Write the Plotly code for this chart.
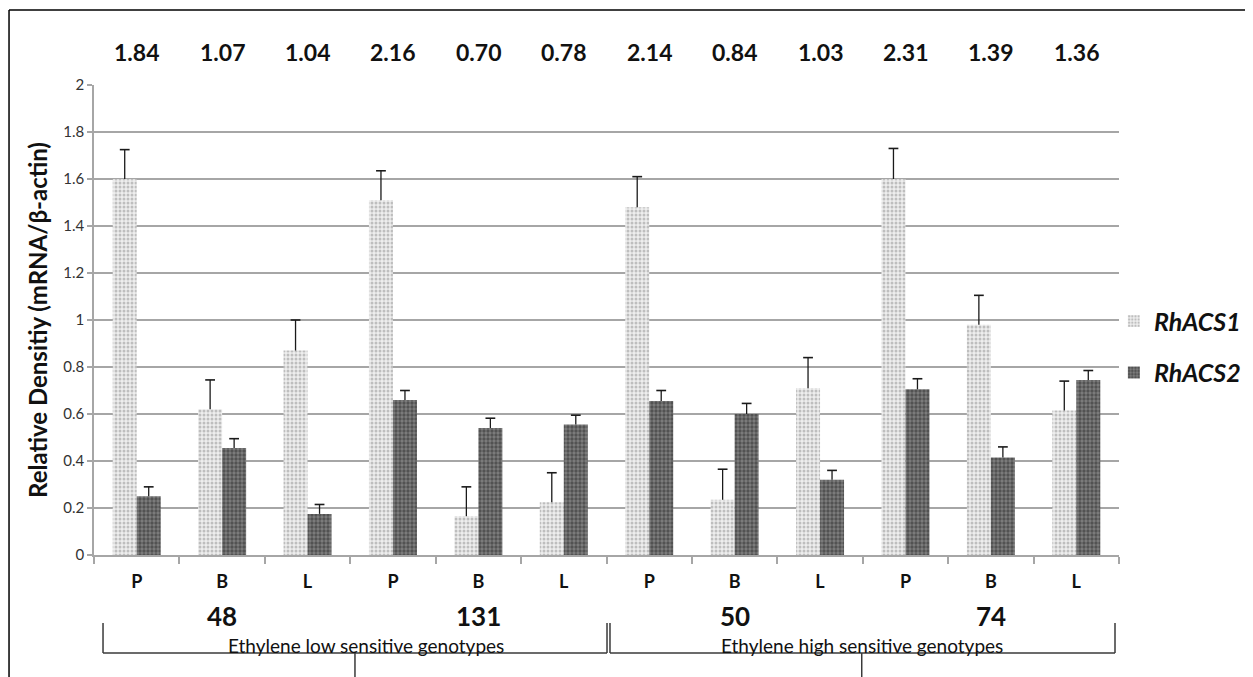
import plotly.graph_objects as go

# ---------------- data ----------------
genotypes = ["48", "131", "50", "74"]
tissues = ["P", "B", "L"]
ratio_labels = ["1.84", "1.07", "1.04", "2.16", "0.70", "0.78",
                "2.14", "0.84", "1.03", "2.31", "1.39", "1.36"]
acs1 = [1.60, 0.62, 0.87, 1.51, 0.165, 0.225, 1.48, 0.235, 0.71, 1.60, 0.98, 0.615]
acs1_err = [0.125, 0.125, 0.13, 0.125, 0.125, 0.125, 0.13, 0.13, 0.13, 0.13, 0.125, 0.125]
acs2 = [0.25, 0.455, 0.175, 0.66, 0.54, 0.555, 0.655, 0.60, 0.32, 0.705, 0.415, 0.745]
acs2_err = [0.04, 0.04, 0.04, 0.04, 0.042, 0.04, 0.045, 0.045, 0.04, 0.045, 0.045, 0.04]
y_ticks = [0, 0.2, 0.4, 0.6, 0.8, 1.0, 1.2, 1.4, 1.6, 1.8, 2.0]
y_tick_labels = ["0", "0.2", "0.4", "0.6", "0.8", "1", "1.2", "1.4", "1.6", "1.8", "2"]
group_titles = ["Ethylene low sensitive genotypes", "Ethylene high sensitive genotypes"]
series_names = ["RhACS1", "RhACS2"]

categories = [f"{g}-{t}" for g in genotypes for t in tissues]
tick_text = [t for g in genotypes for t in tissues]

FONT = "Lato"
GAP = 0.438

fig = go.Figure()
styles = [
    dict(color="#eeeeee", pattern=dict(shape=".", fgcolor="#8e8e8e", bgcolor="#eeeeee", size=4, solidity=0.45)),
    dict(color="#6e6e6e", pattern=dict(shape=".", fgcolor="#262626", bgcolor="#7e7e7e", size=4, solidity=0.55)),
]
for name, vals, errs, st, grp in zip(series_names, [acs1, acs2], [acs1_err, acs2_err], styles, ["a", "b"]):
    fig.add_trace(go.Bar(
        x=categories, y=vals, name=f"<b><i>{name}</i></b>", legendgroup=grp, offsetgroup=grp,
        marker=dict(color=st["color"], line=dict(width=0), pattern=st["pattern"]),
    ))
# error bars (plus direction only) : vertical stroke + cap at value+err
for vals, errs, grp in zip([acs1, acs2], [acs1_err, acs2_err], ["a", "b"]):
    tops = [v + e for v, e in zip(vals, errs)]
    fig.add_trace(go.Scatter(
        x=categories, y=tops, mode="markers", offsetgroup=grp, showlegend=False, hoverinfo="skip",
        marker=dict(symbol="line-ew", size=7, line=dict(color="#1a1a1a", width=1.6), color="#1a1a1a"),
        error_y=dict(type="data", symmetric=False, array=[0] * len(errs), arrayminus=errs,
                     color="#1a1a1a", thickness=1.3, width=0),
    ))

annotations = []
for c, lab in zip(categories, ratio_labels):
    annotations.append(dict(x=c, y=1.070, xref="x", yref="paper", text=f"<b>{lab}</b>",
                            showarrow=False, font=dict(family=FONT, size=23, color="#111111"),
                            xanchor="center", yanchor="middle"))
for g in genotypes:
    annotations.append(dict(x=f"{g}-B", y=-0.130, xref="x", yref="paper", text=f"<b>{g}</b>",
                            showarrow=False, font=dict(family=FONT, size=26, color="#111111"),
                            xanchor="center", yanchor="middle"))
for xc, t in zip([0.265, 0.749], group_titles):
    annotations.append(dict(x=xc, y=-0.192, xref="paper", yref="paper", text=t,
                            showarrow=False, font=dict(family=FONT, size=19, color="#111111"),
                            xanchor="center", yanchor="middle"))

shapes = []
lc = dict(color="#3a3a3a", width=1.5)
for (x0, x1, xm) in [(0.0088, 0.5005, 0.2546), (0.5034, 0.9961, 0.749)]:
    shapes.append(dict(type="line", xref="paper", yref="paper", x0=x0, x1=x0, y0=-0.1447, y1=-0.2085, line=lc))
    shapes.append(dict(type="line", xref="paper", yref="paper", x0=x1, x1=x1, y0=-0.1447, y1=-0.2085, line=lc))
    shapes.append(dict(type="line", xref="paper", yref="paper", x0=x0, x1=x1, y0=-0.2085, y1=-0.2085, line=lc))
    shapes.append(dict(type="line", xref="paper", yref="paper", x0=xm, x1=xm, y0=-0.2085, y1=-0.27, line=lc))
frame = dict(color="#000000", width=1.5)
shapes.append(dict(type="line", xref="paper", yref="paper", x0=-0.0829, x1=1.2, y0=1.1596, y1=1.1596, line=frame))
shapes.append(dict(type="line", xref="paper", yref="paper", x0=-0.0829, x1=-0.0829, y0=1.1596, y1=-0.3, line=frame))

fig.update_layout(
    width=1245, height=669,
    margin=dict(l=86, r=134, t=77, b=122, autoexpand=False),
    paper_bgcolor="white", plot_bgcolor="white",
    barmode="group", bargap=GAP, bargroupgap=0,
    scattermode="group", scattergap=GAP,
    font=dict(family=FONT, color="#222222"),
    showlegend=True,
    legend=dict(x=0.995, y=0.443, xanchor="left", yanchor="middle", bgcolor="rgba(0,0,0,0)",
                font=dict(family=FONT, size=25, color="#111111"), tracegroupgap=16,
                itemwidth=30),
    annotations=annotations,
    shapes=shapes,
)
fig.update_xaxes(
    type="category", categoryorder="array", categoryarray=categories,
    tickvals=categories, ticktext=[f"<b>{t}</b>" for t in tick_text],
    tickfont=dict(family=FONT, size=18, color="#111111"),
    showline=True, linecolor="#a6a6a6", linewidth=1.5,
    ticks="outside", tickson="boundaries", ticklen=7, tickcolor="#a6a6a6", tickwidth=1.5,
    showgrid=False, zeroline=False, ticklabelstandoff=10,
)
fig.update_yaxes(
    range=[0, 2], tickvals=y_ticks, ticktext=y_tick_labels,
    tickfont=dict(family=FONT, size=15, color="#333333"),
    showgrid=True, gridcolor="#a6a6a6", gridwidth=1.5,
    showline=True, linecolor="#a6a6a6", linewidth=1.5,
    ticks="outside", ticklen=5, tickcolor="#a6a6a6", tickwidth=1.5,
    zeroline=False,
    title=dict(text="<b>Relative Densitiy (mRNA/β-actin)</b>", standoff=9,
               font=dict(family=FONT, size=24, color="#111111")),
)

fig.write_html("out.html")
